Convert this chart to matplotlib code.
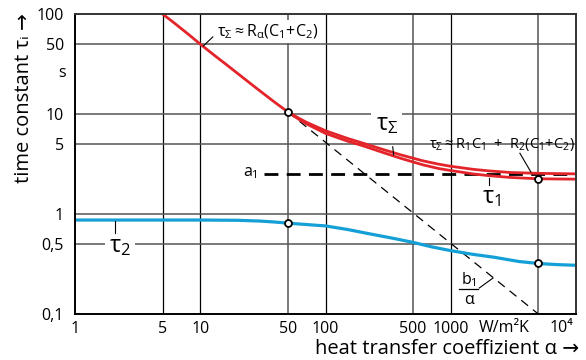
import numpy as np
import matplotlib
matplotlib.use("Agg")
import matplotlib.pyplot as plt
from matplotlib.ticker import FixedLocator, NullLocator
import matplotlib.transforms as mtransforms

plt.rcParams["font.family"] = ["Open Sans", "DejaVu Sans"]
plt.rcParams["mathtext.fontset"] = "custom"
plt.rcParams["mathtext.rm"] = "Open Sans"
plt.rcParams["mathtext.it"] = "Open Sans"
plt.rcParams["mathtext.fallback"] = "stixsans"

# tau_sum (upper red curve)
alpha_sum = [5, 6, 7, 8, 10, 13, 16, 20, 25, 30, 40, 50, 60, 70, 100, 150, 200, 300,
             400, 600, 800, 1000, 1500, 2000, 3000, 5000, 10000]
tau_sum = [100, 84, 72, 63, 50, 38.5, 31.5, 25.3, 20.3, 17, 12.9, 10.5, 9.2, 8.3, 6.8,
           5.7, 5.1, 4.35, 3.9, 3.4, 3.15, 3.0, 2.8, 2.7, 2.6, 2.55, 2.52]

# tau_1 (lower red curve)
alpha_1 = [50, 60, 70, 100, 150, 200, 300, 400, 600, 800, 1000, 1500, 2000, 3000,
           5000, 10000]
tau_1 = [10.5, 9.0, 8.0, 6.4, 5.35, 4.8, 4.05, 3.6, 3.1, 2.85, 2.72, 2.52, 2.42, 2.32,
         2.25, 2.23]

# tau_2 (blue curve)
alpha_2 = [1, 10, 20, 30, 40, 50, 70, 100, 150, 230, 350, 500, 700, 1000, 1500, 2200,
           3500, 5000, 7000, 10000]
tau_2 = [0.87, 0.87, 0.865, 0.85, 0.83, 0.81, 0.785, 0.76, 0.70, 0.63, 0.57, 0.52, 0.47,
         0.43, 0.395, 0.37, 0.335, 0.32, 0.312, 0.307]

# asymptotes
alpha_b = [50, 5000]
tau_b = [10.5, 0.1]
alpha_a = [32, 10000]
tau_a = [2.5, 2.5]

# marked points
mark_alpha = [50, 50, 5000, 5000]
mark_tau = [10.5, 0.81, 2.25, 0.32]

xticks = [1, 5, 10, 50, 100, 500, 1000, 10000]
xlabels = ["1", "5", "10", "50", "100", "500", "1000", ""]
yticks = [0.1, 0.5, 1, 5, 10, 50, 100]
ylabels = ["0,1", "0,5", "1", "5", "10", "50", "100"]

red = "#e3252b"
blue = "#14a0d6"

fig = plt.figure(figsize=(5.86, 3.6), dpi=100)
ax = fig.add_axes([75 / 586, 46 / 360, 501 / 586, 300 / 360])
ax.set_xscale("log")
ax.set_yscale("log")
ax.set_xlim(1, 10000)
ax.set_ylim(0.1, 100)

# grid lines
for x in [5, 10, 100, 1000]:
    ax.axvline(x, color="black", lw=0.9, zorder=1)
for x in [50, 500, 5000]:
    ax.axvline(x, color="#555555", lw=1.1, zorder=1)
for y in [0.5, 1, 5, 10, 50]:
    ax.axhline(y, color="#555555", lw=1.1, zorder=1)

ax.plot(alpha_b, tau_b, color="black", lw=0.9, dashes=(7, 5), zorder=2)
ax.plot(alpha_a, tau_a, color="black", lw=2, dashes=(5, 3), zorder=2)
ax.plot(alpha_sum, tau_sum, color=red, lw=2, zorder=3)
ax.plot(alpha_1, tau_1, color=red, lw=2, zorder=3)
ax.plot(alpha_2, tau_2, color=blue, lw=2.3, zorder=3)
ax.plot(mark_alpha, mark_tau, "o", ms=5, mfc="white", mec="black", mew=1.3, zorder=4)

ax.xaxis.set_major_locator(FixedLocator(xticks))
ax.xaxis.set_minor_locator(NullLocator())
ax.set_xticklabels(xlabels)
ax.yaxis.set_major_locator(FixedLocator(yticks))
ax.yaxis.set_minor_locator(NullLocator())
ax.set_yticklabels(ylabels)
ax.tick_params(length=0, labelsize=11.5)
ax.tick_params(axis="x", pad=5)
ax.tick_params(axis="y", pad=8)
for s in ax.spines.values():
    s.set_linewidth(1.4)
    s.set_zorder(5)
ax.spines["top"].set_color("#333333")
ax.spines["right"].set_color("#333333")

bx = mtransforms.blended_transform_factory(ax.transData, ax.transAxes)
by = mtransforms.blended_transform_factory(ax.transAxes, ax.transData)
ax.text(2650, -0.02, "W/m²K", transform=bx, ha="center", va="top", fontsize=11.5)
ax.text(7600, -0.02, "10⁴", transform=bx, ha="center", va="top", fontsize=11.5,
        clip_on=False)
ax.text(-0.018, 26, "s", transform=by, ha="right", va="center", fontsize=11.5)

white = dict(facecolor="white", edgecolor="none", pad=1.5)
ax.text(13.5, 67, r"$\tau_\Sigma \approx R_\alpha(C_1\!+\!C_2)$", fontsize=11.5,
        ha="left", va="center", bbox=white, zorder=6)
ax.plot([10.6, 12.6], [48, 59], color="black", lw=0.8, zorder=6)

ax.text(308, 8.0, r"$\tau_\Sigma$", fontsize=17, ha="center", va="center",
        bbox=dict(facecolor="white", edgecolor="none", pad=3), zorder=6)
ax.plot([344, 350], [4.7, 3.9], color="black", lw=0.8, zorder=6)

ax.text(9800, 4.9, r"$\tau_\Sigma \approx R_1C_1\ +\ R_2(C_1\!+\!C_2)$", fontsize=10.5,
        ha="right", va="center", zorder=6)
ax.plot([3565, 4365], [4.05, 2.63], color="black", lw=0.8, zorder=6)

ax.text(2128, 1.48, r"$\tau_1$", fontsize=17, ha="center", va="center",
        bbox=dict(facecolor="white", edgecolor="none", pad=3), zorder=6)
ax.plot([2014, 2014], [1.95, 2.3], color="black", lw=0.8, zorder=6)

ax.text(2.29, 0.48, r"$\tau_2$", fontsize=17, ha="center", va="center",
        bbox=dict(facecolor="white", edgecolor="none", pad=3), zorder=6)
ax.plot([2.09, 2.09], [0.86, 0.64], color="black", lw=0.8, zorder=6)

ax.text(28.6, 2.58, r"$a_1$", fontsize=11.5, ha="right", va="center", zorder=6)

ax.text(1393, 0.222, r"$b_1$", fontsize=11.5, ha="center", va="center", zorder=6)
ax.plot([1160, 1640], [0.178, 0.178], color="black", lw=0.9, zorder=6)
ax.text(1393, 0.137, "α", fontsize=11.5, ha="center", va="center", zorder=6)
ax.plot([1690, 2175], [0.182, 0.229], color="black", lw=0.8, zorder=6)

fig.text(579 / 586, 1 - 349 / 360, "heat transfer coeffizient α →", ha="right",
         va="center", fontsize=14.5)
fig.text(24 / 586, 1 - 13 / 360, "time constant τᵢ →", rotation=90, ha="center",
         va="top", fontsize=14.5)

fig.savefig("out.png", dpi=100)
